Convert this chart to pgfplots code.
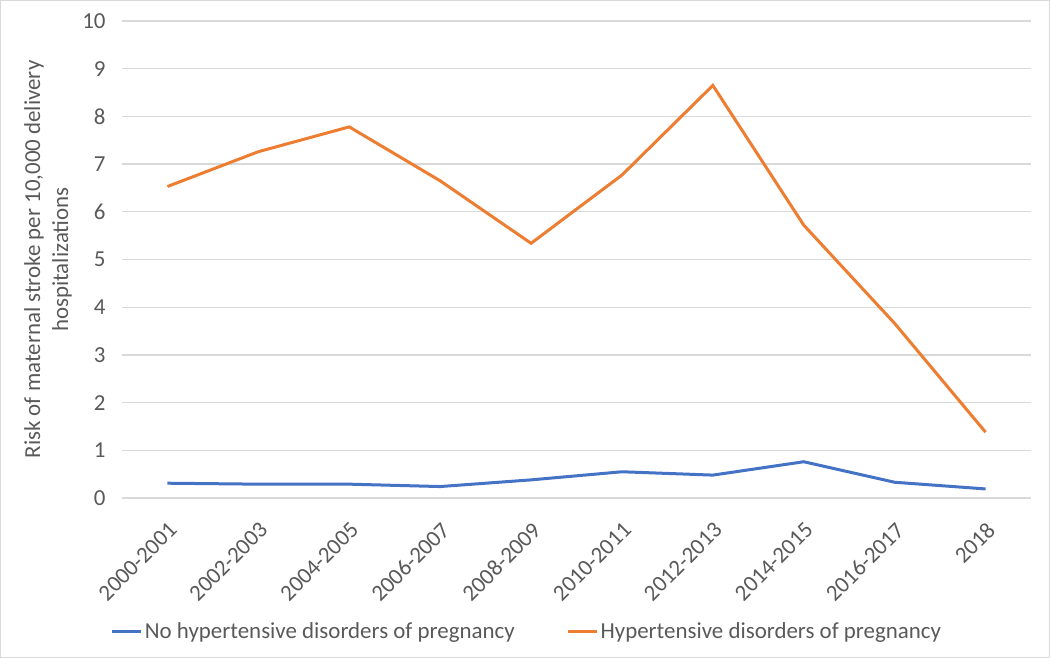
\documentclass[border=0pt]{standalone}
\usepackage{pgfplots}
\pgfplotsset{compat=1.18}
\usepackage{fontspec}
\setmainfont{Carlito}
\definecolor{xlblue}{HTML}{4472C4}
\definecolor{xlorange}{HTML}{ED7D31}
\definecolor{txt}{HTML}{595959}
\definecolor{grd}{HTML}{D9D9D9}
\begin{document}
\begin{tikzpicture}
\begin{axis}[
 at={(0,0)}, anchor=south west,
 scale only axis, width=909bp, height=477bp,
 xmin=-0.5, xmax=9.5, ymin=0, ymax=10,
 xtick={0,...,9},
 xticklabels={2000-2001,2002-2003,2004-2005,2006-2007,2008-2009,2010-2011,2012-2013,2014-2015,2016-2017,2018},
 ytick={0,1,...,10},
 ymajorgrids, grid style={grd, line width=1.3bp},
 axis line style={draw=none}, major tick length=0pt,
 tick label style={font=\fontsize{23}{27}\selectfont, text=txt},
 /pgf/number format/assume math mode=true,
 xticklabel style={rotate=45, anchor=north east, inner sep=2bp, yshift=-14bp, xshift=-14bp},
 yticklabel style={xshift=-13bp},
 ylabel={Risk of maternal stroke per 10,000 delivery\\hospitalizations},
 ylabel style={at={(axis description cs:-0.0814,0.5)}, anchor=center, align=center, font=\fontsize{23}{28}\selectfont, text=txt},
 legend style={at={(axis description cs:0.4455,-0.279)}, anchor=center, draw=none, fill=none, legend columns=2, font=\fontsize{23}{27}\selectfont, text=txt, /tikz/every even column/.append style={column sep=50bp}},
 legend image code/.code={\draw[#1, line width=3bp] (0bp,0bp) -- (29bp,0bp);},
 legend cell align=left,
]
\addplot[xlblue, line width=3bp] coordinates {(0,0.31) (1,0.29) (2,0.29) (3,0.24) (4,0.38) (5,0.55) (6,0.48) (7,0.76) (8,0.33) (9,0.19)};
\addlegendentry{No hypertensive disorders of pregnancy}
\addplot[xlorange, line width=3bp] coordinates {(0,6.53) (1,7.26) (2,7.78) (3,6.65) (4,5.34) (5,6.77) (6,8.65) (7,5.72) (8,3.66) (9,1.38)};
\addlegendentry{Hypertensive disorders of pregnancy}
\end{axis}
\pgfresetboundingbox
\draw[grd, line width=1bp] (-121.5bp,-159.5bp) rectangle (927.5bp,497.5bp);
\end{tikzpicture}
\end{document}
